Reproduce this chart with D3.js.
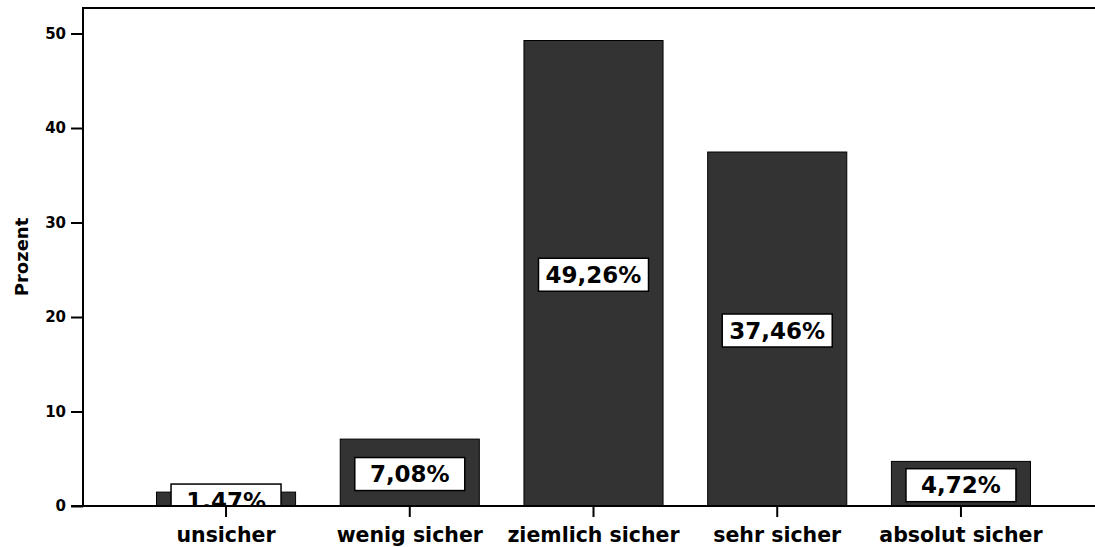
<!DOCTYPE html>
<html>
<head>
<meta charset="utf-8">
<script src="https://cdn.jsdelivr.net/npm/d3@7"></script>
<style>
  body { margin: 0; background: #fff; }
  svg { display: block; }
  text { font-family: "DejaVu Sans", sans-serif; font-weight: bold; fill: #000; }
</style>
</head>
<body>
<svg id="chart" width="1095" height="547"></svg>
<script>
const categories = ["unsicher", "wenig sicher", "ziemlich sicher", "sehr sicher", "absolut sicher"];
const percents = [1.47, 7.08, 49.26, 37.46, 4.72];
const pctLabels = ["1,47%", "7,08%", "49,26%", "37,46%", "4,72%"];
const yTicks = [0, 10, 20, 30, 40, 50];

const svg = d3.select("#chart");
const mLeft = 83, mTop = 8, mBottom = 506, mRight = 1095;

const x = d3.scaleBand()
  .domain(categories)
  .range([mLeft, 1104])
  .paddingInner(0.243)
  .paddingOuter(0.4);
const y = d3.scaleLinear().domain([0, 52.7]).range([mBottom, mTop]);

svg.append("defs").append("clipPath").attr("id", "plot")
  .append("rect").attr("x", mLeft).attr("y", 0)
  .attr("width", mRight - mLeft).attr("height", mBottom);

const plot = svg.append("g").attr("clip-path", "url(#plot)");

// bars
plot.selectAll("rect.bar").data(percents)
  .enter().append("rect")
  .attr("class", "bar")
  .attr("x", (d, i) => x(categories[i]))
  .attr("y", d => y(d))
  .attr("width", x.bandwidth())
  .attr("height", d => mBottom - y(d))
  .attr("fill", "#333333")
  .attr("stroke", "#000")
  .attr("stroke-width", 1);

// value labels in white boxes
const lab = plot.selectAll("g.lab").data(percents)
  .enter().append("g")
  .attr("class", "lab")
  .attr("transform", (d, i) =>
    `translate(${x(categories[i]) + x.bandwidth() / 2},${(y(d) + mBottom) / 2 + 1.5})`);
lab.append("rect")
  .attr("x", -55).attr("y", -16.5)
  .attr("width", 110).attr("height", 33)
  .attr("fill", "#fff").attr("stroke", "#000").attr("stroke-width", 1.5);
lab.append("text")
  .attr("text-anchor", "middle")
  .attr("dy", "0.36em")
  .style("font-size", "23px")
  .text((d, i) => pctLabels[i]);

// frame top line
svg.append("line")
  .attr("x1", mLeft).attr("x2", mRight)
  .attr("y1", mTop).attr("y2", mTop)
  .attr("stroke", "#000").attr("stroke-width", 2);

// y axis
const yAxis = svg.append("g")
  .attr("transform", `translate(${mLeft},0)`)
  .call(d3.axisLeft(y).tickValues(yTicks).tickSize(12).tickPadding(5).tickSizeOuter(0));
yAxis.select(".domain").remove();
yAxis.append("line")
  .attr("x1", 0).attr("x2", 0).attr("y1", mTop - 1).attr("y2", mBottom + 1)
  .attr("stroke", "#000").attr("stroke-width", 2);
yAxis.selectAll(".tick line").attr("stroke", "#000").attr("stroke-width", 2);
yAxis.selectAll(".tick text")
  .attr("font-family", null).attr("font-size", null)
  .style("font-size", "15px");

// x axis
const xAxis = svg.append("g")
  .attr("transform", `translate(0,${mBottom})`)
  .call(d3.axisBottom(x).tickSize(11).tickPadding(10).tickSizeOuter(0));
xAxis.select(".domain").remove();
xAxis.append("line")
  .attr("x1", mLeft - 12).attr("x2", mRight)
  .attr("y1", 0).attr("y2", 0)
  .attr("stroke", "#000").attr("stroke-width", 2);
xAxis.selectAll(".tick line").attr("stroke", "#000").attr("stroke-width", 2);
xAxis.selectAll(".tick text")
  .attr("font-family", null).attr("font-size", null)
  .style("font-size", "20.5px");

// y axis title
svg.append("text")
  .attr("transform", `translate(28,${(mTop + mBottom) / 2}) rotate(-90)`)
  .attr("text-anchor", "middle")
  .style("font-size", "18px")
  .text("Prozent");
</script>
</body>
</html>
